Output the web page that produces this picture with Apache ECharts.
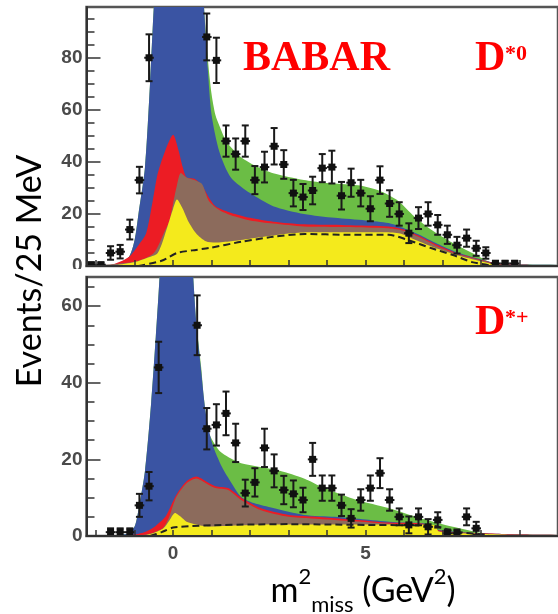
<!DOCTYPE html>
<html>
<head>
<meta charset="utf-8">
<script src="https://cdn.jsdelivr.net/npm/echarts@6/dist/echarts.min.js"></script>
<style>
  html, body { margin: 0; padding: 0; background: #fff; }
  #chart { width: 558px; height: 614px; }
</style>
</head>
<body>
<div id="chart"></div>
<script>
// top panel (D*0): cumulative model boundaries, [m2miss, events]
const topGreen = [[-2.25, 0], [-1.5, 0.5], [-1.15, 3.5], [-1.0, 10], [-0.9, 20], [-0.73, 38], [-0.6, 70], [-0.5, 100], [-0.3, 150], [0, 200], [0.3, 190], [0.6, 140], [0.8, 100], [0.9, 80], [1.0, 66], [1.1, 58], [1.2, 54], [1.4, 47.5], [1.75, 42], [2.2, 38], [2.6, 35.6], [3.4, 33], [3.9, 32], [4.8, 31], [5.35, 29], [5.85, 25], [6.27, 19], [6.7, 14], [7.27, 8.8], [7.77, 5], [8.35, 1], [9, 0.6], [10, 0.5]];
const topBlue = [[-2.25, 0], [-1.5, 0.5], [-1.15, 3.5], [-1.0, 10], [-0.9, 20], [-0.73, 38], [-0.6, 70], [-0.5, 100], [-0.3, 150], [0, 200], [0.3, 190], [0.6, 140], [0.8, 100], [0.9, 76], [1.0, 58], [1.2, 44], [1.5, 34], [2.0, 28], [2.6, 23], [3.4, 20], [4.2, 18.5], [5, 17.5], [5.6, 16.5], [6, 14.5], [6.4, 12], [6.8, 9], [7.3, 5.7], [7.8, 3.4], [8.4, 1.1], [9, 0.6], [10, 0.5]];
const topRed = [[-2.25, 0], [-1.6, 0.5], [-1.15, 3.5], [-0.9, 8], [-0.7, 12.6], [-0.53, 25], [-0.4, 35.5], [-0.2, 44.5], [0, 50.4], [0.14, 44.5], [0.25, 38], [0.35, 34], [0.55, 33.5], [0.75, 31], [0.9, 27], [1.1, 23], [1.5, 20.5], [2, 18.5], [2.6, 17], [3.4, 16], [4.5, 15.7], [5.6, 15.2], [6, 14], [6.4, 11.5], [6.8, 8.5], [7.3, 5.3], [7.8, 3.2], [8.4, 1], [9, 0.5], [10, 0.4]];
const topBrown = [[-2.25, 0], [-1.0, 1.6], [-0.5, 5], [-0.2, 14], [-0.1, 17], [0, 24], [0.1, 31], [0.2, 35.7], [0.35, 34], [0.55, 33], [0.75, 31.5], [0.93, 25], [1.2, 21.5], [1.5, 19.5], [2, 17.5], [2.6, 16.3], [3.4, 15.2], [4.5, 15], [5.6, 14.5], [6, 13.5], [6.4, 11], [6.8, 8], [7.3, 5], [7.8, 3], [8.4, 0.8], [9, 0.4], [10, 0.3]];
const topYellow = [[-2.25, 0], [-1.5, 0.3], [-1.0, 1.5], [-0.7, 3], [-0.4, 5], [-0.15, 15], [0, 22], [0.1, 25.5], [0.25, 22], [0.4, 17], [0.6, 12.5], [0.85, 9.5], [1.1, 9], [1.5, 9.5], [2.0, 10.5], [2.5, 11.5], [3.0, 12.5], [3.5, 13], [4.5, 13], [5.5, 13], [5.9, 12.5], [6.3, 10], [6.8, 7], [7.3, 4.5], [7.8, 2.5], [8.4, 0.5], [9, 0.2], [10, 0]];
const topDashed = [[-0.9, 0], [-0.3, 2], [0.1, 5], [0.5, 6], [0.93, 6.9], [1.77, 9.3], [2.6, 11.2], [3.43, 12.3], [4.5, 12], [5.6, 12], [6.1, 10], [6.7, 6.9], [7.27, 4.2], [7.77, 1.5], [8.2, 0.3]];
// top panel data points: [m2miss, events, error]
const topPoints = [[-2.125, 0.5, 0.8], [-1.875, 0.5, 0.8], [-1.625, 5, 2.6], [-1.375, 5.5, 2.6], [-1.125, 14, 3.8], [-0.875, 33, 5.1], [-0.625, 80, 9], [0.875, 88, 9], [1.125, 79, 8.7], [1.375, 48, 6], [1.625, 43, 6], [1.875, 48, 6], [2.125, 33, 5.4], [2.375, 38, 5.9], [2.625, 46, 7], [2.875, 39, 5.5], [3.125, 28, 5.1], [3.375, 26.5, 5], [3.625, 29, 5.3], [3.875, 37.6, 5.4], [4.125, 38, 6.3], [4.375, 27, 5.3], [4.625, 32, 5.4], [4.875, 28, 5.1], [5.125, 22, 4.8], [5.375, 33, 5.3], [5.625, 24, 5.1], [5.875, 20, 4.5], [6.125, 12.6, 3.8], [6.375, 18.4, 4.2], [6.625, 20, 4.5], [6.875, 15.8, 3.8], [7.125, 12, 3.5], [7.375, 8, 3.2], [7.625, 10.7, 3.3], [7.875, 6.8, 2.9], [8.125, 5, 2.2], [8.375, 1, 1], [8.625, 1, 1], [8.875, 1, 1]];

// bottom panel (D*+)
const botGreen = [[-2.25, 0], [-1.2, 0.5], [-1.0, 2.5], [-0.9, 6.8], [-0.73, 17], [-0.57, 34.7], [-0.45, 52], [-0.35, 68], [-0.2, 100], [0, 130], [0.2, 120], [0.45, 80], [0.52, 68], [0.6, 56], [0.73, 44], [0.8, 36], [0.93, 27], [1.18, 22.5], [1.43, 20.6], [1.77, 19], [2.27, 18], [2.77, 17], [3.4, 15], [3.93, 12.5], [4.77, 9.4], [5.6, 7.3], [6.4, 4.7], [7.27, 2.4], [7.9, 1], [8.4, 0.5], [9, 0.4], [10, 0.3]];
const botBlue = [[-2.25, 0], [-1.2, 0.5], [-1.0, 2.5], [-0.9, 6.8], [-0.73, 17], [-0.57, 34.7], [-0.45, 52], [-0.35, 68], [-0.2, 100], [0, 130], [0.2, 120], [0.45, 80], [0.52, 68], [0.6, 56], [0.73, 43], [0.85, 32], [1.02, 24], [1.27, 18], [1.52, 13.8], [1.77, 10.2], [2.1, 8.6], [2.6, 7.3], [3.4, 5.5], [4.2, 5], [5, 4.3], [5.8, 3.6], [6.5, 3.3], [6.9, 1.6], [7.5, 1], [8.4, 0.6], [9, 0.4], [10, 0.3]];
const botRed = [[-2.25, 0], [-1.0, 0.4], [-0.7, 1.2], [-0.47, 2.5], [-0.2, 5], [-0.05, 8], [0.1, 11], [0.35, 14.3], [0.6, 15.5], [0.85, 14.3], [1.1, 13], [1.43, 12.5], [1.77, 10], [2.27, 7.3], [3, 5.5], [3.6, 5.1], [4.8, 4.2], [5.6, 3.5], [6.5, 3.2], [6.9, 1.5], [7.5, 0.9], [8.4, 0.6], [9, 0.4], [10, 0.3]];
const botBrown = [[-2.25, 0], [-0.9, 0.1], [-0.5, 0.9], [-0.25, 2.2], [-0.1, 5], [0, 8], [0.1, 10.5], [0.35, 13.8], [0.6, 15], [0.85, 13.8], [1.1, 12.5], [1.43, 12], [1.77, 9.4], [2.27, 6.8], [3, 5], [3.6, 4.6], [4.8, 3.8], [5.6, 3.2], [6.5, 3], [6.9, 1.3], [7.5, 0.8], [8.4, 0.5], [9, 0.3], [10, 0.2]];
const botYellow = [[-2.25, 0], [-0.9, 0], [-0.5, 0.8], [-0.25, 2], [-0.1, 4], [0.05, 6], [0.2, 5], [0.35, 3.7], [0.6, 3], [0.9, 2.5], [1.5, 2.7], [2.5, 3], [4, 3], [5.5, 3], [6.8, 2.9], [6.9, 1.2], [7.5, 0.7], [8.4, 0.4], [9, 0.2], [10, 0]];
const botDashed = [[-0.6, 0], [-0.3, 1], [0, 2.2], [0.5, 2.6], [1, 2.8], [2, 3], [3, 3.1], [4, 3], [5, 2.9], [6, 2.8], [6.8, 2.6], [7.2, 1.5], [7.6, 0.8], [8.2, 0.3]];
const botPoints = [[-1.625, 1, 1], [-1.375, 1, 1], [-1.125, 1, 1], [-0.875, 8, 3], [-0.625, 13, 3.7], [-0.375, 44, 6.7], [0.625, 55, 7.8], [0.875, 28, 5.4], [1.125, 29, 5.4], [1.375, 32, 5.7], [1.625, 24.3, 5], [1.875, 11.2, 3.5], [2.125, 14, 3.7], [2.375, 23, 5], [2.625, 17, 4.3], [2.875, 12, 3.7], [3.125, 11, 3.5], [3.375, 9.4, 3.2], [3.625, 20, 4.3], [3.875, 12.5, 3.3], [4.125, 12.5, 3.3], [4.375, 8, 2.8], [4.625, 4.6, 2.4], [4.875, 9.4, 2.8], [5.125, 12.5, 3.3], [5.375, 16.4, 3.9], [5.625, 9.4, 2.8], [5.875, 5, 2.2], [6.125, 2.9, 2.2], [6.375, 5, 2.2], [6.625, 2.4, 2], [6.875, 4.2, 2], [7.125, 0.7, 1], [7.375, 0.7, 1], [7.625, 5, 2.2], [7.875, 2, 1.7]];

const xTicks = [-2, -1, 0, 1, 2, 3, 4, 5, 6, 7, 8, 9];
const xLabels = [0, 5];
const topMajor = [0, 20, 40, 60, 80];
const topMinor = [5, 10, 15, 25, 30, 35, 45, 50, 55, 65, 70, 75, 85, 90, 95];
const botMajor = [0, 20, 40, 60];
const botMinor = [5, 10, 15, 25, 30, 35, 45, 50, 55, 65];

const COLORS = {
  green: '#6bbd45',
  blue: '#3a54a3',
  red: '#ec1c24',
  brown: '#8c6b5c',
  yellow: '#f4ea1c',
};

const area = (data, color, idx) => ({
  type: 'line',
  xAxisIndex: idx,
  yAxisIndex: idx * 2,
  data,
  smooth: 0.25,
  symbol: 'none',
  lineStyle: { width: 0 },
  areaStyle: { color, opacity: 1 },
  silent: true,
});

const dashed = (data, idx) => ({
  type: 'line',
  xAxisIndex: idx,
  yAxisIndex: idx * 2,
  data,
  smooth: 0.25,
  symbol: 'none',
  lineStyle: { color: '#222', width: 2, type: [7, 4] },
  z: 3,
});

const renderPoint = (params, api) => {
  const x = api.value(0);
  const y = api.value(1);
  const e = api.value(2);
  const c = api.coord([x, y]);
  const lo = api.coord([x, y - e])[1];
  const hi = api.coord([x, y + e])[1];
  const l = api.coord([x - 0.125, y])[0];
  const r = api.coord([x + 0.125, y])[0];
  const style = { stroke: '#1a1a1a', lineWidth: 2 };
  return {
    type: 'group',
    children: [
      { type: 'line', shape: { x1: c[0], y1: lo, x2: c[0], y2: hi }, style },
      { type: 'line', shape: { x1: c[0] - 3.5, y1: lo, x2: c[0] + 3.5, y2: lo }, style },
      { type: 'line', shape: { x1: c[0] - 3.5, y1: hi, x2: c[0] + 3.5, y2: hi }, style },
      { type: 'line', shape: { x1: l, y1: c[1], x2: r, y2: c[1] }, style },
      { type: 'rect', shape: { x: c[0] - 3.5, y: c[1] - 3.5, width: 7, height: 7 }, style: { fill: '#111' } },
    ],
  };
};

const points = (data, idx) => ({
  type: 'custom',
  xAxisIndex: idx,
  yAxisIndex: idx * 2,
  data,
  renderItem: renderPoint,
  clip: true,
  z: 4,
});

const xAxis = (idx, showLabels) => ({
  type: 'value',
  gridIndex: idx,
  min: -2.25,
  max: 10,
  z: 10,
  axisLine: { show: true, onZero: false, lineStyle: { color: '#333', width: 2 } },
  axisTick: { show: true, inside: true, length: 6, customValues: xTicks, lineStyle: { color: '#333', width: 1.5 } },
  axisLabel: {
    show: showLabels,
    customValues: xLabels,
    color: '#4a4a4a',
    fontSize: 19,
    fontWeight: 'bold',
    fontFamily: 'Liberation Sans',
    margin: 8,
  },
  splitLine: { show: false },
});

const yAxes = (idx, max, major, minor) => [
  {
    type: 'value',
    gridIndex: idx,
    position: 'left',
    min: 0,
    max,
    z: 10,
    axisLine: { show: true, onZero: false, lineStyle: { color: '#333', width: 2 } },
    axisTick: { show: true, inside: true, length: 14, customValues: major, lineStyle: { color: '#333', width: 1.5 } },
    axisLabel: {
      customValues: major,
      color: '#4a4a4a',
      fontSize: 19,
      fontWeight: 'bold',
      fontFamily: 'Liberation Sans',
      margin: 4,
    },
    splitLine: { show: false },
  },
  {
    type: 'value',
    gridIndex: idx,
    position: 'left',
    min: 0,
    max,
    z: 10,
    axisLine: { show: false, onZero: false },
    axisTick: { show: true, inside: true, length: 8, customValues: minor, lineStyle: { color: '#333', width: 1.5 } },
    axisLabel: { show: false },
    splitLine: { show: false },
  },
];

const chart = echarts.init(document.getElementById('chart'), null, { renderer: 'canvas' });

chart.setOption({
  animation: false,
  backgroundColor: '#fff',
  grid: [
    { left: 86.5, top: 7, width: 487.6, height: 259, show: true, borderColor: '#555', borderWidth: 2.5, backgroundColor: '#fff' },
    { left: 86.5, top: 277, width: 487.6, height: 259, show: true, borderColor: '#555', borderWidth: 2.5, backgroundColor: '#fff' },
  ],
  xAxis: [xAxis(0, false), xAxis(1, true)],
  yAxis: [...yAxes(0, 99.5, topMajor, topMinor), ...yAxes(1, 67.6, botMajor, botMinor)],
  series: [
    area(topGreen, COLORS.green, 0),
    area(topBlue, COLORS.blue, 0),
    area(topRed, COLORS.red, 0),
    area(topBrown, COLORS.brown, 0),
    area(topYellow, COLORS.yellow, 0),
    dashed(topDashed, 0),
    points(topPoints, 0),
    area(botGreen, COLORS.green, 1),
    area(botBlue, COLORS.blue, 1),
    area(botRed, COLORS.red, 1),
    area(botBrown, COLORS.brown, 1),
    area(botYellow, COLORS.yellow, 1),
    dashed(botDashed, 1),
    points(botPoints, 1),
  ],
  graphic: [
    // the lower frame hides the bottom half of the upper "0"
    { type: 'rect', z: 100, shape: { x: 50, y: 269, width: 35, height: 8 }, style: { fill: '#fff' } },
    { type: 'text', z: 100, x: 243, y: 59, style: { text: 'BABAR', font: 'bold 42px "Liberation Serif"', fill: '#ff0000', textVerticalAlign: 'middle' } },
    { type: 'text', z: 100, x: 475, y: 59, style: { text: 'D', font: 'bold 42px "Liberation Serif"', fill: '#ff0000', textVerticalAlign: 'middle' } },
    { type: 'text', z: 100, x: 505, y: 54, style: { text: '*0', font: 'bold 22px "Liberation Serif"', fill: '#ff0000', textVerticalAlign: 'middle' } },
    { type: 'text', z: 100, x: 475, y: 323, style: { text: 'D', font: 'bold 42px "Liberation Serif"', fill: '#ff0000', textVerticalAlign: 'middle' } },
    { type: 'text', z: 100, x: 505, y: 318, style: { text: '*+', font: 'bold 22px "Liberation Serif"', fill: '#ff0000', textVerticalAlign: 'middle' } },
    {
      type: 'text', z: 100, x: 30, y: 271, rotation: Math.PI / 2,
      style: { text: 'Events/25 MeV', font: '34px Lato', fill: '#000', textAlign: 'center', textVerticalAlign: 'middle' },
    },
    {
      type: 'text', z: 100, x: 363, y: 591,
      style: {
        text: '{a|m}{sup|2}{sub|miss}{a| (GeV}{sup|2}{a|)}',
        textAlign: 'center',
        textVerticalAlign: 'middle',
        rich: {
          a: { fontSize: 34, fontFamily: 'Lato', fill: '#000', lineHeight: 50 },
          sup: { fontSize: 22, fontFamily: 'Lato', fill: '#000', lineHeight: 30, verticalAlign: 'top' },
          sub: { fontSize: 22, fontFamily: 'Lato', fill: '#000', lineHeight: 22, verticalAlign: 'bottom' },
        },
      },
    },
  ],
});
</script>
</body>
</html>
